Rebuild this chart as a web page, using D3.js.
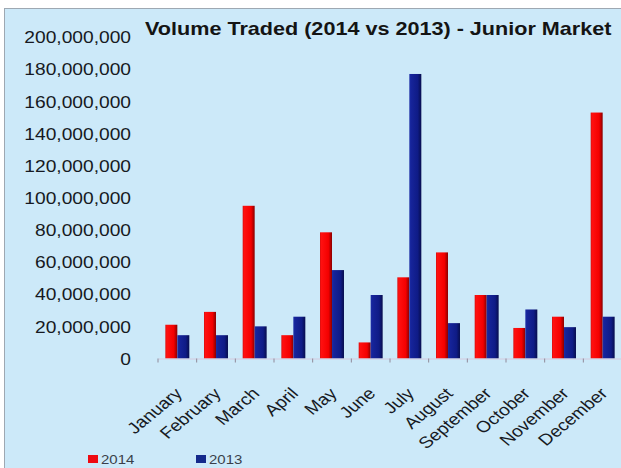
<!DOCTYPE html>
<html>
<head>
<meta charset="utf-8">
<script src="https://cdn.jsdelivr.net/npm/d3@7"></script>
<style>
  html, body { margin: 0; padding: 0; background: #ffffff; }
  svg { display: block; }
  text { font-family: "Liberation Sans", Arial, sans-serif; }
</style>
</head>
<body>
<script>
// Monthly traded volume on the Junior Market, 2014 against 2013
const months = ["January", "February", "March", "April", "May", "June",
                "July", "August", "September", "October", "November", "December"];
const vol2014 = [21000000, 29000000, 95000000, 14500000, 78500000, 10000000,
                 50500000, 66000000, 39500000, 19000000, 26000000, 153000000];
const vol2013 = [14500000, 14500000, 20000000, 26000000, 55000000, 39500000,
                 177000000, 22000000, 39500000, 30500000, 19500000, 26000000];
const seriesNames = ["2014", "2013"];
const yTicks = [0, 20000000, 40000000, 60000000, 80000000, 100000000,
                120000000, 140000000, 160000000, 180000000, 200000000];
const title = "Volume Traded (2014 vs 2013) - Junior Market";

const W = 621, H = 468;
const SX = 1.2;            // horizontal stretch applied to all text
const colors = { "2014": "url(#gRed)", "2013": "url(#gBlue)" };
const swatch = { "2014": "#ee0a12", "2013": "#142a8c" };

const svg = d3.select("body").append("svg")
  .attr("width", W).attr("height", H);

// bar shading
const defs = svg.append("defs");
function grad(id, stops) {
  const g = defs.append("linearGradient").attr("id", id)
    .attr("x1", "0%").attr("x2", "100%").attr("y1", "0%").attr("y2", "0%");
  stops.forEach(([o, c]) => g.append("stop").attr("offset", o).attr("stop-color", c));
}
grad("gRed", [["0%", "#d80c0c"], ["12%", "#ff1010"], ["70%", "#f40000"], ["100%", "#8a0000"]]);
grad("gBlue", [["0%", "#1c2ea6"], ["15%", "#16249a"], ["70%", "#0f1b86"], ["100%", "#070d4e"]]);

// chart area
svg.append("rect").attr("x", 4.5).attr("y", 8.5).attr("width", W).attr("height", H)
  .attr("fill", "#cce9f9").attr("stroke", "#9ea8b2").attr("stroke-width", 1);

const x = d3.scaleBand().domain(months).range([158, 622])
  .paddingInner(0.38).paddingOuter(0.19);
const xs = d3.scaleBand().domain(seriesNames).range([0, x.bandwidth()]);
const y = d3.scaleLinear().domain([0, 200000000]).range([358.5, 37]);

// title
svg.append("text")
  .attr("transform", `translate(145,35) scale(${SX},1)`)
  .attr("font-size", 18).attr("font-weight", "bold").attr("fill", "#141414")
  .text(title);

// y axis labels
const yAxis = svg.append("g").attr("transform", "translate(131,0)")
  .call(d3.axisLeft(y).tickValues(yTicks).tickFormat(d3.format(","))
    .tickSize(0).tickPadding(0));
yAxis.select(".domain").remove();
yAxis.selectAll("text")
  .attr("x", 0).attr("dy", "0.36em")
  .attr("transform", `scale(${SX},1)`)
  .attr("font-size", 16).attr("font-family", "Liberation Sans, Arial, sans-serif")
  .attr("fill", "#161922");

// bars
const rows = months.map((m, i) => ({ month: m, values: { "2014": vol2014[i], "2013": vol2013[i] } }));
const groups = svg.append("g").selectAll("g").data(rows).join("g")
  .attr("transform", d => `translate(${x(d.month)},0)`);
groups.selectAll("rect")
  .data(d => seriesNames.map(s => ({ s, v: d.values[s] })))
  .join("rect")
  .attr("x", d => xs(d.s))
  .attr("width", xs.bandwidth())
  .attr("y", d => y(d.v))
  .attr("height", d => y(0) - y(d.v))
  .attr("fill", d => colors[d.s]);

// x axis
const xAxis = svg.append("g").attr("transform", `translate(0,${y(0)})`)
  .call(d3.axisBottom(x).tickSize(0).tickSizeOuter(0).tickPadding(0));
xAxis.select(".domain").attr("stroke", "#d4c9de").attr("stroke-width", 1.2);
xAxis.selectAll("text")
  .attr("y", 0).attr("dy", 0)
  .attr("text-anchor", "end")
  .attr("transform", `translate(6,36) scale(${SX},1) rotate(-45)`)
  .attr("font-size", 16).attr("font-family", "Liberation Sans, Arial, sans-serif")
  .attr("fill", "#161922");

// category separators below the baseline
const gap = x.step() * x.paddingInner() / 2;
const bounds = months.map(m => x(m) - gap);
svg.append("g").selectAll("line").data(bounds).join("line")
  .attr("x1", d => d).attr("x2", d => d)
  .attr("y1", y(0)).attr("y2", y(0) + 4)
  .attr("stroke", "#8f8a9a").attr("stroke-width", 1);

// legend
const legendPos = { "2014": 88, "2013": 196 };
const legend = svg.append("g").selectAll("g").data(seriesNames).join("g")
  .attr("transform", d => `translate(${legendPos[d]},455)`);
legend.append("rect").attr("width", 10).attr("height", 8)
  .attr("fill", d => swatch[d]);
legend.append("text")
  .attr("transform", `translate(13,8.5) scale(${SX},1)`)
  .attr("font-size", 12.5).attr("fill", "#3a3f4a")
  .text(d => d);
</script>
</body>
</html>
